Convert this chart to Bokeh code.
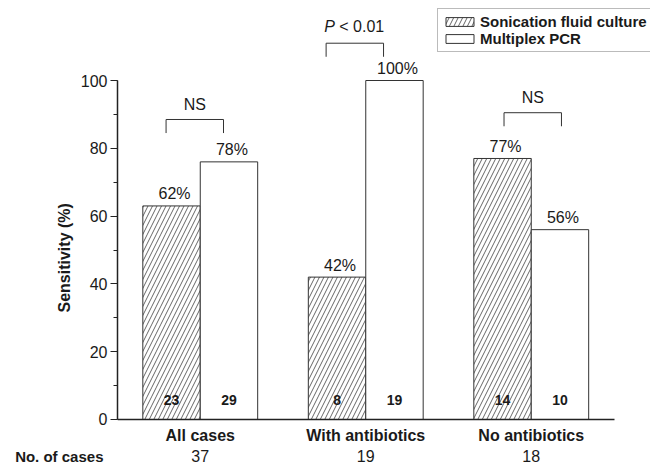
import math
from bokeh.plotting import figure
from bokeh.models import (Range1d, LinearAxis, FixedTicker, SingleIntervalTicker,
                          Legend, LegendItem, ColumnDataSource, Title)
from bokeh.core.properties import value
from bokeh.embed import file_html
from bokeh.resources import INLINE

# ---------------- data ----------------
groups = ["All cases", "With antibiotics", "No antibiotics"]
n_cases = ["37", "19", "18"]
n_cases_title = "No. of cases"
sonication = [63, 42, 77]          # bar heights (%)
pcr = [76, 100, 56]
sonication_labels = ["62%", "42%", "77%"]
pcr_labels = ["78%", "100%", "56%"]
sonication_counts = ["23", "8", "14"]
pcr_counts = ["29", "19", "10"]
bracket_level = [88.5, 111, 90.5]
bracket_text = ["NS", "P < 0.01", "NS"]
series_names = ["Sonication fluid culture", "Multiplex PCR"]

# ---------------- layout constants ----------------
FONT_NAME = "Liberation Sans"
FONT = value(FONT_NAME)
W = 0.347                      # bar width (data units)
BRACKET_DX = [-0.033, -0.066, 0.009]
CASES_ROW_Y = -11.0            # data-space row of the case counts (below the axis)
INK = "#1a1a1a"

xs = list(range(len(groups)))
x_son = [x - W / 2 for x in xs]
x_pcr = [x + W / 2 for x in xs]

src_son = ColumnDataSource(dict(x=x_son, top=sonication, lab=sonication_labels, cnt=sonication_counts))
src_pcr = ColumnDataSource(dict(x=x_pcr, top=pcr, lab=pcr_labels, cnt=pcr_counts))

p = figure(width=650, height=467,
           x_range=Range1d(-0.5, 2.7205), y_range=Range1d(-14.16, 123.6),
           output_backend="svg", toolbar_location=None,
           x_axis_type=None, y_axis_type=None,
           min_border_left=117, min_border_right=0,
           min_border_top=0, min_border_bottom=0)
p.outline_line_color = None
p.grid.visible = False
p.background_fill_color = "white"
p.border_fill_color = "white"

# bars
r_son = p.vbar(x="x", top="top", width=W, bottom=0, source=src_son,
               fill_color="white", line_color="#333333", line_width=1,
               hatch_pattern="/", hatch_color="#666666", hatch_weight=1, hatch_scale=9)
r_pcr = p.vbar(x="x", top="top", width=W, bottom=0, source=src_pcr,
               fill_color="white", line_color="#333333", line_width=1)

# percent labels and counts
for src in (src_son, src_pcr):
    p.text(x="x", y="top", text="lab", source=src, text_font=FONT, text_font_size="16px",
           text_color=INK, text_align="center", text_baseline="alphabetic",
           x_offset=3, y_offset=-12)
    p.text(x="x", y=0, text="cnt", source=src, text_font=FONT, text_font_size="14px",
           text_font_style="bold", text_color=INK, text_align="center",
           text_baseline="middle", y_offset=-19)

# significance brackets
bx, by = [], []
for i, lvl in enumerate(bracket_level):
    l = x_son[i] + BRACKET_DX[i]
    r = x_pcr[i] + BRACKET_DX[i]
    bx.append([l, l, r, r])
    by.append([lvl - 4, lvl, lvl, lvl - 4])
p.multi_line(xs=bx, ys=by, line_color="#333333", line_width=1)

for i, (lvl, t) in enumerate(zip(bracket_level, bracket_text)):
    cx = i + BRACKET_DX[i]
    if t.startswith("P "):
        p.text(x=[cx], y=[lvl], text=["P"], text_font=FONT, text_font_size="16px",
               text_font_style="italic", text_color=INK, text_align="right",
               text_baseline="alphabetic", x_offset=-20, y_offset=-17)
        p.text(x=[cx], y=[lvl], text=[t[2:]], text_font=FONT, text_font_size="16px",
               text_color=INK, text_align="left", text_baseline="alphabetic",
               x_offset=-15.5, y_offset=-17)
    else:
        p.text(x=[cx], y=[lvl], text=[t], text_font=FONT, text_font_size="16px",
               text_color=INK, text_align="center", text_baseline="alphabetic",
               y_offset=-15)

# y axis
yaxis = LinearAxis(ticker=SingleIntervalTicker(interval=20, num_minor_ticks=2),
                   bounds=(0, 100))
yaxis.axis_line_color = "#222222"
yaxis.axis_line_width = 1.5
yaxis.major_tick_line_color = "#222222"
yaxis.minor_tick_line_color = "#222222"
yaxis.major_tick_out = 7
yaxis.major_tick_in = 0
yaxis.minor_tick_out = 4
yaxis.minor_tick_in = 0
yaxis.major_label_text_font = FONT_NAME
yaxis.major_label_text_font_size = "16px"
yaxis.major_label_text_color = INK
yaxis.major_label_standoff = 3
p.add_layout(yaxis, "left")

# y axis title (shifted to centre on 0-100)
p.add_layout(Title(text="Sensitivity (%)", align="left", offset=155,
                   text_font=FONT_NAME, text_font_size="16px", text_font_style="bold",
                   text_color=INK), "left")

# row title "No. of cases" as a single-tick left axis at the counts row
cases_axis = LinearAxis(ticker=FixedTicker(ticks=[CASES_ROW_Y], minor_ticks=[]),
                        bounds=(CASES_ROW_Y - 1, 40),
                        major_label_overrides={CASES_ROW_Y: n_cases_title})
cases_axis.axis_line_color = None
cases_axis.major_tick_line_color = None
cases_axis.minor_tick_line_color = None
cases_axis.major_tick_out = 0
cases_axis.major_tick_in = 0
cases_axis.major_label_text_font = FONT_NAME
cases_axis.major_label_text_font_size = "15px"
cases_axis.major_label_text_font_style = "bold"
cases_axis.major_label_text_color = INK
cases_axis.major_label_standoff = -55
p.add_layout(cases_axis, "left")

# x axis (drawn at y = 0) with group names
xaxis = LinearAxis(ticker=FixedTicker(ticks=xs, minor_ticks=[]), bounds=(-0.5, 2.5),
                   fixed_location=0,
                   major_label_overrides={i: g for i, g in enumerate(groups)})
xaxis.axis_line_color = "#222222"
xaxis.axis_line_width = 1.5
xaxis.major_tick_out = 0
xaxis.major_tick_in = 0
xaxis.minor_tick_out = 0
xaxis.major_label_text_font = FONT_NAME
xaxis.major_label_text_font_size = "16px"
xaxis.major_label_text_font_style = "bold"
xaxis.major_label_text_color = INK
xaxis.major_label_standoff = 8
p.add_layout(xaxis, "below")

# second x axis row with case numbers
xaxis2 = LinearAxis(ticker=FixedTicker(ticks=xs, minor_ticks=[]), bounds=(-0.5, 2.5),
                    fixed_location=0,
                    major_label_overrides={i: n for i, n in enumerate(n_cases)})
xaxis2.axis_line_color = None
xaxis2.major_tick_line_color = None
xaxis2.minor_tick_line_color = None
xaxis2.major_tick_out = 0
xaxis2.major_tick_in = 0
xaxis2.major_label_text_font = FONT_NAME
xaxis2.major_label_text_font_size = "16px"
xaxis2.major_label_text_color = INK
xaxis2.major_label_standoff = 31
p.add_layout(xaxis2, "below")

# legend
legend = Legend(items=[LegendItem(label=series_names[0], renderers=[r_son]),
                       LegendItem(label=series_names[1], renderers=[r_pcr])],
                location=(320, 415), orientation="vertical",
                glyph_width=35, glyph_height=11, label_standoff=3,
                padding=4, spacing=0, margin=0,
                label_text_font=FONT_NAME, label_text_font_size="15px",
                label_text_font_style="bold", label_text_color=INK,
                border_line_color="#777777", border_line_width=1,
                background_fill_color="white", background_fill_alpha=1.0)
p.add_layout(legend)

open("out.html", "w").write(file_html(p, INLINE))
